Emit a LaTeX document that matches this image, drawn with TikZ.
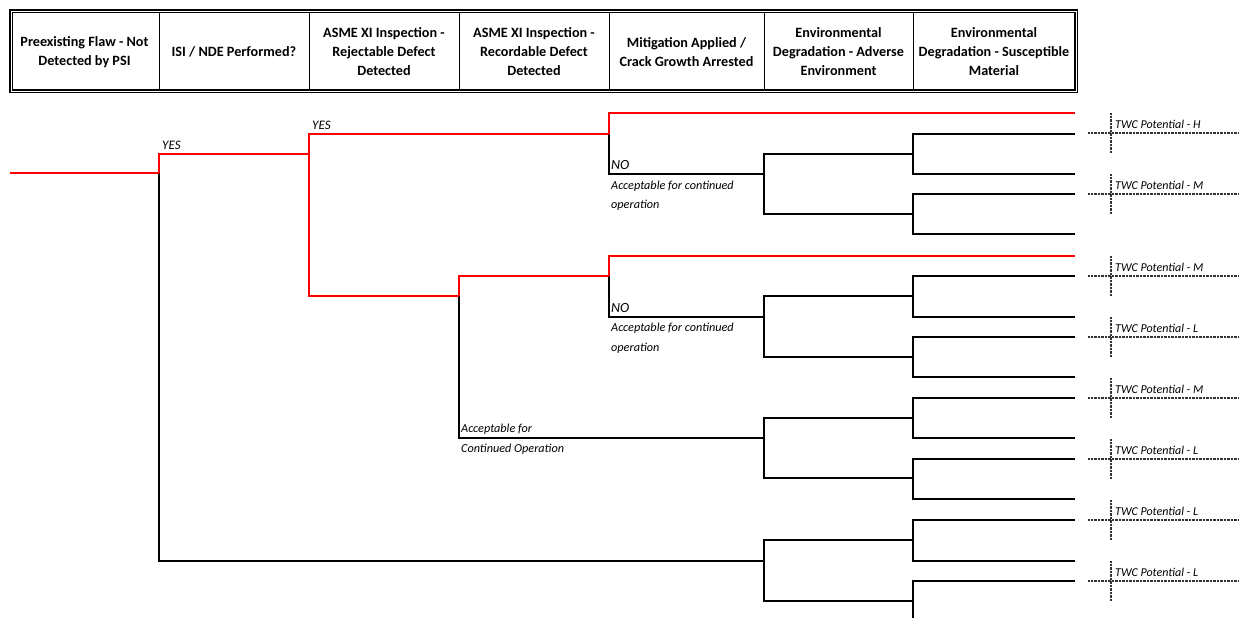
\documentclass[tikz,border=0pt]{standalone}
\usepackage{fontspec}
\setmainfont{Carlito}
\usetikzlibrary{positioning}
\tikzset{x=1pt, y=-1pt,
    head/.style={
        align=center,
        inner sep=0pt,
        font=\bfseries\fontsize{14.2}{19}\selectfont},
    hit/.style={
        draw=red,
        line width=1.6pt},
    miss/.style={
        draw=black,
        line width=1.6pt},
    lbl/.style={
        anchor=base west,
        inner sep=0pt,
        font=\itshape\fontsize{12.2}{14}\selectfont},
    twc/.style={
        anchor=base west,
        inner sep=0pt,
        font=\itshape\fontsize{12}{14}\selectfont},
    cell/.style={
        draw=black!80,
        line width=1.4pt,
        dash pattern=on 1pt off 0.4pt}}

\begin{document}
\begin{tikzpicture}
        \useasboundingbox (0,0) rectangle (1239,618);
        % header row
        \draw[line width=1.2pt, double distance=0.8pt] (11,11) rectangle (1076,91);
        \foreach \c in {159,309,459,609,764,913}
            \draw[line width=0.9pt] (\c,12) -- (\c,90);
        \node[head] (preflaw) at (84.5,52) {Preexisting Flaw - Not\\Detected by PSI};
        \node[head] (isinde) at (234,52) {ISI / NDE Performed?};
        \node[head] (rejdef) at (384,52) {ASME XI Inspection -\\Rejectable Defect\\Detected};
        \node[head] (recdef) at (534,52) {ASME XI Inspection -\\Recordable Defect\\Detected};
        \node[head] (mitig) at (686.5,52) {Mitigation Applied /\\Crack Growth Arrested};
        \node[head] (advenv) at (838.5,52) {Environmental\\Degradation - Adverse\\Environment};
        \node[head] (suscmat) at (994,52) {Environmental\\Degradation - Susceptible\\Material};
        % branch points
        \coordinate (root) at (10,173);
        \coordinate (isi) at (159,173);
        \coordinate (rej) at (309,154);
        \coordinate (rec) at (459,296);
        \coordinate (mitA) at (609,134);
        \coordinate (mitB) at (609,276);
        \coordinate (envA) at (764,174);
        \coordinate (envB) at (764,317);
        \coordinate (envC) at (764,438);
        \coordinate (envD) at (764,561);
        \coordinate (endA) at (1075,113);
        \coordinate (endB) at (1075,256);
        % susceptible material forks
        \foreach \m/\u/\d in {154/134/174, 214/194/234, 296/276/317, 357/337/377,
                              418/398/438, 478/459/499, 540/520/561, 601/581/622} {
            \coordinate (mat\m) at (913,\m);
            \coordinate (leaf\u) at (1075,\u);
            \coordinate (leaf\d) at (1075,\d);
            \draw[miss] (mat\m) |- (leaf\u);
            \draw[miss] (mat\m) |- (leaf\d);
        }
        % adverse environment forks
        \foreach \e/\u/\d in {envA/154/214, envB/296/357, envC/418/478, envD/540/601} {
            \draw[miss] (\e) |- (mat\u);
            \draw[miss] (\e) |- (mat\d);
        }
        % main tree
        \draw[miss] (isi) |- (envD);
        \draw[miss] (rec) |- (envC);
        \draw[miss] (mitA) |- (envA);
        \draw[miss] (mitB) |- (envB);
        \draw[hit] (root) -- (isi);
        \draw[hit] (isi) |- (rej);
        \draw[hit] (rej) |- (mitA);
        \draw[hit] (rej) |- (rec);
        \draw[hit] (rec) |- (mitB);
        \draw[hit] (mitA) |- (endA);
        \draw[hit] (mitB) |- (endB);
        % branch labels
        \node[lbl, font=\itshape\fontsize{13}{14}\selectfont] (yes1) at (162,149) {YES};
        \node[lbl, font=\itshape\fontsize{13}{14}\selectfont] (yes2) at (312,129) {YES};
        \node[lbl, font=\itshape\fontsize{14}{14}\selectfont] (no1) at (611,169) {NO};
        \node[lbl] (ok1a) at (611,189) {Acceptable for continued};
        \node[lbl] (ok1b) at (611,208) {operation};
        \node[lbl, font=\itshape\fontsize{14}{14}\selectfont] (no2) at (611,312) {NO};
        \node[lbl] (ok2a) at (611,331) {Acceptable for continued};
        \node[lbl] (ok2b) at (611,351) {operation};
        \node[lbl] (ok3a) at (461,432) {Acceptable for};
        \node[lbl] (ok3b) at (461,452) {Continued Operation};
        % outcome cells
        \foreach \y/\lv in {133/H, 194/M, 276/M, 337/L, 398/M, 459/L, 520/L, 581/L} {
            \coordinate (cellW\y) at (1088,\y);
            \coordinate (cellE\y) at (1239,\y);
            \coordinate (cellN\y) at (1111,\y-20);
            \coordinate (cellS\y) at (1111,\y+20);
            \draw[cell] (cellW\y) -- (cellE\y);
            \draw[cell] (cellN\y) -- (cellS\y);
            \node[twc] (twc\y) at (1115,\y-5) {TWC Potential - \lv};
        }
    \end{tikzpicture}
\end{document}
